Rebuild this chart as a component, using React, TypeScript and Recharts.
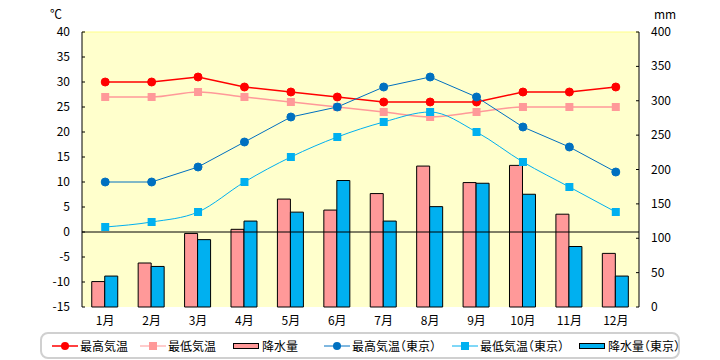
import React from "react";
import {
  ComposedChart,
  Bar,
  Line,
  XAxis,
  YAxis,
  CartesianGrid,
  ReferenceLine,
} from "recharts";

const months = ["1月", "2月", "3月", "4月", "5月", "6月", "7月", "8月", "9月", "10月", "11月", "12月"];
const maxTemp = [30, 30, 31, 29, 28, 27, 26, 26, 26, 28, 28, 29];
const minTemp = [27, 27, 28, 27, 26, 25, 24, 23, 24, 25, 25, 25];
const rain = [37, 64, 107, 113, 157, 141, 165, 205, 181, 206, 135, 78];
const maxTempTokyo = [10, 10, 13, 18, 23, 25, 29, 31, 27, 21, 17, 12];
const minTempTokyo = [1, 2, 4, 10, 15, 19, 22, 24, 20, 14, 9, 4];
const rainTokyo = [45, 59, 98, 125, 138, 184, 125, 146, 180, 164, 88, 45];

const tempTicks = [-15, -10, -5, 0, 5, 10, 15, 20, 25, 30, 35, 40];
const rainTicks = [0, 50, 100, 150, 200, 250, 300, 350, 400];

const FONT = "'Noto Sans CJK JP', 'Noto Sans', sans-serif";
const RED = "#FF0000";
const PINK = "#FF9999";
const BLUE = "#0070C0";
const SKY = "#00B0F0";

const data = months.map((m, i) => ({
  month: m,
  maxTemp: maxTemp[i],
  minTemp: minTemp[i],
  rain: rain[i],
  maxTempTokyo: maxTempTokyo[i],
  minTempTokyo: minTempTokyo[i],
  rainTokyo: rainTokyo[i],
}));

const MARGIN = 12;

const LeftTick = (props: any) => {
  const { x, y, payload } = props;
  const ax = x + MARGIN;
  return (
    <g>
      <line x1={ax} x2={ax + 3} y1={y} y2={y} stroke="#000" />
      <text x={x} y={y} dy={4} textAnchor="end" fontSize={12} fontFamily={FONT} fill="#000">
        {payload.value}
      </text>
    </g>
  );
};

const RightTick = (props: any) => {
  const { x, y, payload } = props;
  const ax = x - MARGIN;
  return (
    <g>
      <line x1={ax - 3} x2={ax} y1={y} y2={y} stroke="#000" />
      <text x={x} y={y} dy={4} textAnchor="start" fontSize={12} fontFamily={FONT} fill="#000">
        {payload.value}
      </text>
    </g>
  );
};

const squareDot = (color: string) => (props: any) => {
  const { cx, cy, index } = props;
  return <rect key={index} x={cx - 4} y={cy - 4} width={8} height={8} fill={color} />;
};

const legendItems = [
  { name: "最高気温", kind: "circle", color: RED },
  { name: "最低気温", kind: "square", color: PINK },
  { name: "降水量", kind: "bar", color: PINK },
  { name: "最高気温（東京）", kind: "circle", color: BLUE },
  { name: "最低気温（東京）", kind: "square", color: SKY },
  { name: "降水量（東京）", kind: "bar", color: SKY },
];
const legendLeft = [10, 98, 191, 282, 410, 537];

const LegendIcon = ({ kind, color }: { kind: string; color: string }) => {
  if (kind === "bar") {
    return (
      <svg width={27} height={8} style={{ display: "block" }}>
        <rect x={0.5} y={1.5} width={25} height={5} fill={color} stroke="#000" />
      </svg>
    );
  }
  return (
    <svg width={26} height={10} style={{ display: "block" }}>
      <line x1={0} x2={26} y1={5} y2={5} stroke={color} strokeWidth={kind === "circle" && color === RED ? 1.5 : 1} />
      {kind === "circle" ? (
        <circle cx={13} cy={5} r={4} fill={color} />
      ) : (
        <rect x={9} y={1} width={8} height={8} fill={color} />
      )}
    </svg>
  );
};

const App = () => {
  return (
    <div style={{ position: "absolute", left: 0, top: 0, width: 720, height: 360, background: "#fff", fontFamily: FONT }}>
      <div style={{ position: "absolute", left: 50, top: 5, fontSize: 12 }}>℃</div>
      <div style={{ position: "absolute", left: 654, top: 5, fontSize: 12 }}>mm</div>
      <ComposedChart
        width={720}
        height={360}
        data={data}
        margin={{ top: 32, right: 21, left: 22, bottom: 33 }}
        barGap={0}
        barCategoryGap="21%"
      >
        <CartesianGrid horizontal={false} vertical={false} fill="#FFFFCC" />
        <XAxis
          dataKey="month"
          axisLine={false}
          tickLine={false}
          height={20}
          tickMargin={3}
          tick={{ fill: "#000", fontSize: 12, fontFamily: FONT }}
        />
        <YAxis
          yAxisId="t"
          orientation="left"
          width={60}
          domain={[-15, 40]}
          ticks={tempTicks}
          interval={0}
          tickSize={0}
          tickMargin={MARGIN}
          tickLine={false}
          axisLine={{ stroke: "#000" }}
          tick={<LeftTick />}
        />
        <YAxis
          yAxisId="p"
          orientation="right"
          width={60}
          domain={[0, 400]}
          ticks={rainTicks}
          interval={0}
          tickSize={0}
          tickMargin={MARGIN}
          tickLine={false}
          axisLine={{ stroke: "#000" }}
          tick={<RightTick />}
        />
        <ReferenceLine yAxisId="t" y={40} stroke="#FFFF88" />
        <ReferenceLine yAxisId="t" y={0} stroke="#000" />
        <Bar yAxisId="p" dataKey="rain" fill={PINK} stroke="#000" strokeWidth={1} isAnimationActive={false} />
        <Bar yAxisId="p" dataKey="rainTokyo" fill={SKY} stroke="#000" strokeWidth={1} isAnimationActive={false} />
        <Line
          yAxisId="t"
          type="linear"
          dataKey="maxTemp"
          stroke={RED}
          strokeWidth={1.5}
          dot={{ r: 4, fill: RED, stroke: RED, strokeWidth: 1 }}
          isAnimationActive={false}
        />
        <Line
          yAxisId="t"
          type="monotone"
          dataKey="minTemp"
          stroke={PINK}
          strokeWidth={1.5}
          dot={squareDot(PINK)}
          isAnimationActive={false}
        />
        <Line
          yAxisId="t"
          type="linear"
          dataKey="maxTempTokyo"
          stroke={BLUE}
          strokeWidth={1}
          dot={{ r: 4, fill: BLUE, stroke: BLUE, strokeWidth: 1 }}
          isAnimationActive={false}
        />
        <Line
          yAxisId="t"
          type="monotone"
          dataKey="minTempTokyo"
          stroke={SKY}
          strokeWidth={1}
          dot={squareDot(SKY)}
          isAnimationActive={false}
        />
      </ComposedChart>
      <div
        style={{
          position: "absolute",
          left: 40,
          top: 332,
          width: 636,
          height: 23,
          border: "2px solid #D0D0D0",
          borderRadius: 8,
        }}
      >
        {legendItems.map((item, i) => (
          <div
            key={item.name}
            style={{
              position: "absolute",
              left: legendLeft[i],
              top: 2,
              height: 19,
              display: "flex",
              alignItems: "center",
              gap: 2,
              fontSize: 12,
              fontFeatureSettings: "'halt'",
              whiteSpace: "nowrap",
            }}
          >
            <LegendIcon kind={item.kind} color={item.color} />
            <span>{item.name}</span>
          </div>
        ))}
      </div>
    </div>
  );
};

export default App;
